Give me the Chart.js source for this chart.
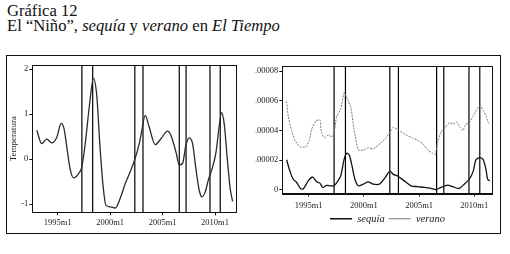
<!DOCTYPE html>
<html><head><meta charset="utf-8">
<script src="https://cdn.jsdelivr.net/npm/chart.js@4.4.1/dist/chart.umd.min.js"></script>
<style>
html,body{margin:0;padding:0;background:#fff;}
body{width:510px;height:254px;overflow:hidden;position:relative;font-family:"Liberation Serif",serif;color:#111;}
.t{position:absolute;left:7px;font-size:16.6px;line-height:16px;white-space:nowrap;}
#t1{top:3.3px;}
#t2{top:18.3px;}
#frame{position:absolute;left:6px;top:55px;width:493px;height:177px;border:1px solid #111;}
canvas{position:absolute;left:0;top:0;}
</style>
</head><body>
<div class="t" id="t1">Gráfica 12</div>
<div class="t" id="t2">El “Niño”, <i>sequía</i> y <i>verano</i> en <i>El Tiempo</i></div>
<div id="frame"></div>
<canvas id="c1" width="510" height="254"></canvas>
<canvas id="c2" width="510" height="254"></canvas>
<script>
// ---- data ----
const tempYears = [1993.0,1993.47,1993.95,1994.43,1994.9,1995.32,1995.6,1995.86,1996.17,1996.5,1996.97,1997.29,1997.6,1998.02,1998.4,1998.72,1999.04,1999.35,1999.6,2000.16,2000.47,2000.95,2001.43,2001.9,2002.38,2002.77,2002.99,2003.34,2003.72,2004.29,2004.84,2005.47,2005.79,2006.27,2006.59,2006.9,2007.22,2007.54,2007.86,2008.18,2008.5,2008.75,2009.07,2009.36,2009.77,2010.1,2010.41,2010.63,2010.88,2011.2,2011.45,2011.68];
const tempValues = [0.64,0.34,0.44,0.36,0.48,0.79,0.67,0.27,-0.21,-0.42,-0.33,-0.18,0.30,1.19,1.79,1.41,0.23,-0.66,-1.03,-1.07,-1.09,-0.88,-0.55,-0.29,0.01,0.34,0.60,0.97,0.71,0.32,0.45,0.62,0.53,0.16,-0.13,-0.10,0.30,0.47,0.34,-0.22,-0.70,-0.84,-0.73,-0.47,-0.18,0.16,0.75,1.03,0.78,-0.07,-0.66,-0.94];

const sequiaYears = [1993.0,1993.3,1993.6,1993.91,1994.28,1994.51,1994.96,1995.36,1995.72,1996.02,1996.27,1996.63,1996.93,1997.29,1997.54,1997.9,1998.2,1998.44,1998.68,1998.9,1999.19,1999.49,1999.95,2000.4,2000.85,2001.4,2001.82,2002.12,2002.36,2002.66,2003.06,2003.66,2004.27,2004.87,2005.47,2006.08,2006.53,2006.98,2007.59,2008.04,2008.64,2009.09,2009.55,2009.91,2010.15,2010.51,2010.81,2011.06,2011.21,2011.42];
const sequiaValues = [2.03e-5,1.27e-5,0.72e-5,0.5e-5,0.07e-5,0.07e-5,0.61e-5,0.87e-5,0.56e-5,0.46e-5,0.17e-5,0.3e-5,0.28e-5,0.28e-5,0.5e-5,0.94e-5,2.03e-5,2.47e-5,2.36e-5,1.7e-5,0.72e-5,0.28e-5,0.39e-5,0.54e-5,0.39e-5,0.39e-5,0.72e-5,1.05e-5,1.27e-5,1.05e-5,0.94e-5,0.61e-5,0.28e-5,0.22e-5,0.17e-5,0.1e-5,0.02e-5,0.17e-5,0.33e-5,0.22e-5,0.1e-5,0.39e-5,0.72e-5,1.27e-5,2.03e-5,2.18e-5,2.03e-5,1.38e-5,0.72e-5,0.61e-5];

const veranoYears = [1993.0,1993.15,1993.46,1993.76,1994.21,1994.76,1995.05,1995.27,1995.66,1996.02,1996.18,1996.48,1996.78,1997.08,1997.29,1997.54,1997.9,1998.22,1998.53,1998.83,1999.1,1999.49,1999.95,2000.4,2000.85,2001.46,2002.0,2002.45,2002.66,2003.2,2003.81,2004.42,2004.87,2005.33,2005.78,2006.23,2006.47,2006.68,2006.98,2007.37,2007.74,2008.04,2008.4,2008.7,2008.95,2009.25,2009.55,2009.91,2010.31,2010.54,2010.85,2011.06,2011.3,2011.42];
const veranoValues = [5.97e-5,4.98e-5,4.0e-5,3.34e-5,2.9e-5,2.9e-5,3.34e-5,4.1e-5,4.66e-5,4.72e-5,3.78e-5,3.5e-5,3.71e-5,3.56e-5,3.78e-5,4.98e-5,5.42e-5,6.56e-5,6.07e-5,5.53e-5,4.1e-5,2.69e-5,2.69e-5,2.84e-5,2.75e-5,3.12e-5,3.5e-5,4.0e-5,4.22e-5,4.0e-5,3.71e-5,3.5e-5,3.34e-5,3.12e-5,2.69e-5,2.47e-5,2.36e-5,3.23e-5,3.89e-5,4.22e-5,4.54e-5,4.43e-5,4.59e-5,4.22e-5,4.0e-5,4.43e-5,4.54e-5,4.98e-5,5.53e-5,5.68e-5,5.31e-5,4.98e-5,4.5e-5,4.48e-5];

const eventDates = [1997.3,1998.33,2002.35,2003.13,2006.59,2007.24,2009.52,2010.5];

const xTickValues = [1995,2000,2005,2010];
const xTickLabels = ['1995m1','2000m1','2005m1','2010m1'];
const tempTickValues = [-1,0,1,2];
const tempTickLabels = ['-1','0','1','2'];
const rightTickValues = [0,2e-5,4e-5,6e-5,8e-5];
const rightTickLabels = ['0','.00002','.00004','.00006','.00008'];
const seriesNames = ['sequía','verano'];
const yTitle = 'Temperatura';

// ---- helpers ----
const FONT = '"Liberation Serif", "Times New Roman", serif';
const pts = (xs, ys) => xs.map((x, i) => ({x, y: ys[i]}));
const eventLine = (lo, hi) => eventDates.flatMap(d => [{x: d, y: lo}, {x: d, y: hi}, {x: d, y: null}]);

const frame = {
  id: 'frame',
  afterDatasetsDraw(c) {
    const {ctx, chartArea: a} = c;
    ctx.save();
    ctx.strokeStyle = '#111';
    ctx.lineWidth = 1;
    ctx.strokeRect(Math.round(a.left) + 0.5, Math.round(a.top) + 0.5, Math.round(a.right - a.left), Math.round(a.bottom - a.top));
    ctx.restore();
  }
};

function xAxis(min, max, h, pad) {
  return {
    type: 'linear', min, max,
    afterBuildTicks: s => { s.ticks = xTickValues.map(v => ({value: v})); },
    afterFit: s => { s.height = h; },
    ticks: {callback: (v, i) => xTickLabels[i], font: {family: FONT, size: 8.5}, color: '#222', padding: pad, maxRotation: 0, autoSkip: false},
    grid: {display: true, drawOnChartArea: false, drawTicks: true, tickLength: 3, color: '#111', lineWidth: 1},
    border: {display: true, color: '#111'}
  };
}
function yAxis(min, max, vals, labels, w, title) {
  return {
    type: 'linear', min, max,
    afterBuildTicks: s => { s.ticks = vals.map(v => ({value: v})); },
    afterFit: s => { s.width = w; },
    ticks: {callback: (v, i) => labels[i], font: {family: FONT, size: 8.5}, color: '#222', padding: 1, autoSkip: false},
    grid: {display: true, drawOnChartArea: false, drawTicks: true, tickLength: 3, color: '#111', lineWidth: 1},
    border: {display: true, color: '#111'},
    title: title ? {display: true, text: title, font: {family: FONT, size: 9}, color: '#222', padding: {top: 4, bottom: 0}} : {display: false}
  };
}

Chart.defaults.animation = false;
Chart.defaults.font.family = FONT;

new Chart(document.getElementById('c1'), {
  type: 'line',
  data: {datasets: [
    {label: 'temp', data: pts(tempYears, tempValues), borderColor: '#2a2a2a', borderWidth: 1.3, pointRadius: 0, cubicInterpolationMode: 'monotone', fill: false},
    {label: 'ev', data: eventLine(-5, 5), borderColor: '#000', borderWidth: 1.2, pointRadius: 0, spanGaps: false, tension: 0}
  ]},
  options: {
    responsive: false, animation: false,
    layout: {padding: {left: 4, top: 65, right: 273.3, bottom: 27.7}},
    plugins: {legend: {display: false}, tooltip: {enabled: false}},
    scales: {
      x: xAxis(1992.57, 2012.07, 14, 2),
      y: yAxis(-1.184, 2.089, tempTickValues, tempTickLabels, 28.3, yTitle)
    }
  },
  plugins: [frame]
});

new Chart(document.getElementById('c2'), {
  type: 'line',
  data: {datasets: [
    {label: seriesNames[0], data: pts(sequiaYears, sequiaValues), borderColor: '#111', borderWidth: 1.3, pointRadius: 0, tension: 0.25, fill: false},
    {label: seriesNames[1], data: pts(veranoYears, veranoValues), borderColor: '#777', borderWidth: 1, borderDash: [2, 1.2], pointRadius: 0, tension: 0.15, fill: false},
    {label: 'ev', data: eventLine(-1, 1), borderColor: '#000', borderWidth: 1.2, pointRadius: 0, spanGaps: false, tension: 0}
  ]},
  options: {
    responsive: false, animation: false,
    layout: {padding: {left: 250.3, top: 66, right: 17.3, bottom: 20}},
    plugins: {
      tooltip: {enabled: false},
      legend: {
        display: true, position: 'bottom', fullSize: false,
        labels: {
          filter: it => it.text !== 'ev',
          usePointStyle: true, pointStyle: 'line', pointStyleWidth: 22,
          padding: 4, color: '#222',
          font: {family: FONT, size: 10.5, style: 'italic'}
        }
      }
    },
    scales: {
      x: xAxis(1992.61, 2011.67, 16, 4),
      y: yAxis(-0.24e-5, 8.35e-5, rightTickValues, rightTickLabels, 32, null)
    }
  },
  plugins: [frame]
});
</script>
</body></html>
